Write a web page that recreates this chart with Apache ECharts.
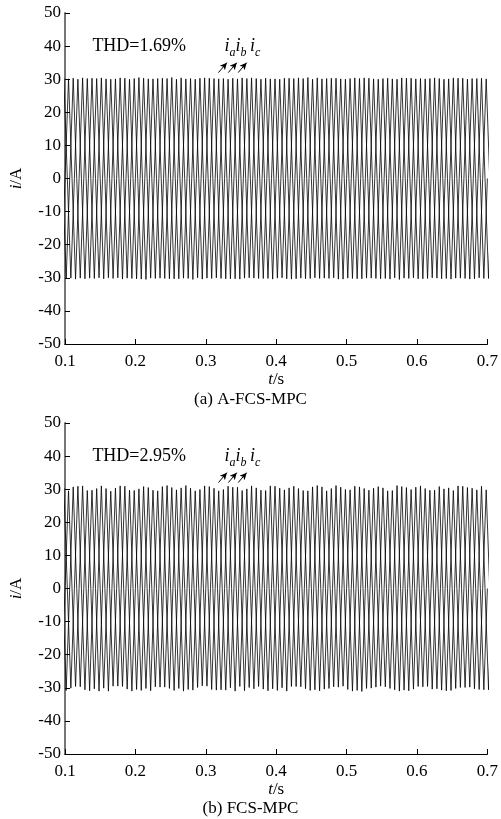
<!DOCTYPE html>
<html><head><meta charset="utf-8">
<script src="https://cdn.jsdelivr.net/npm/echarts@6/dist/echarts.min.js"></script>
<style>html,body{margin:0;padding:0;background:#fff}#c{width:501px;height:819px}</style>
</head><body><div id="c"></div>
<script>
// ---- data ----
const tMin = 0.1, tMax = 0.7;
const period = 0.02; // 50 Hz fundamental
const xTicks = ['0.1','0.2','0.3','0.4','0.5','0.6','0.7'];
const yTicks = [-50,-40,-30,-20,-10,0,10,20,30,40,50];
const captions = ['(a) A-FCS-MPC', '(b) FCS-MPC'];
const thdLabels = ['THD=1.69%', 'THD=2.95%'];

// (a) A-FCS-MPC : positive / negative peak per cycle, phases a,b,c
const aPosA = [30.3,30.1,30.4,30.2,30.0,30.3,30.5,30.1,30.2,30.4,30.0,30.3,30.2,30.1,30.4,30.3,30.0,30.2,30.5,30.1,30.3,30.2,30.4,30.0,30.1,30.3,30.2,30.4,30.1,30.3,30.2];
const aNegA = [-30.2,-30.4,-30.1,-30.3,-30.0,-30.2,-30.5,-30.1,-30.3,-30.2,-30.4,-30.0,-30.3,-30.1,-30.2,-30.4,-30.3,-30.1,-30.0,-30.2,-30.4,-30.3,-30.1,-30.2,-30.5,-30.0,-30.2,-30.3,-30.1,-30.4,-30.2];
const aPosB = [30.1,30.3,30.2,30.4,30.1,30.0,30.3,30.2,30.5,30.1,30.3,30.2,30.0,30.4,30.2,30.1,30.3,30.4,30.0,30.2,30.1,30.4,30.3,30.2,30.0,30.3,30.1,30.2,30.4,30.0,30.3];
const aNegB = [-30.3,-30.1,-30.2,-30.0,-30.4,-30.3,-30.1,-30.2,-30.3,-30.5,-30.1,-30.2,-30.3,-30.0,-30.2,-30.1,-30.4,-30.3,-30.2,-30.0,-30.1,-30.3,-30.2,-30.4,-30.1,-30.3,-30.0,-30.2,-30.1,-30.3,-30.2];
const aPosC = [30.2,30.0,30.3,30.1,30.4,30.2,30.1,30.3,30.0,30.2,30.4,30.1,30.3,30.2,30.0,30.1,30.3,30.2,30.4,30.3,30.0,30.2,30.1,30.3,30.4,30.1,30.2,30.0,30.3,30.2,30.1];
const aNegC = [-30.1,-30.3,-30.0,-30.2,-30.1,-30.4,-30.2,-30.3,-30.1,-30.0,-30.2,-30.3,-30.4,-30.1,-30.2,-30.0,-30.3,-30.2,-30.1,-30.4,-30.2,-30.1,-30.3,-30.0,-30.2,-30.3,-30.1,-30.4,-30.2,-30.0,-30.3];

// (b) FCS-MPC : larger ripple on the peaks
const bPosA = [30.6,29.5,31.0,30.2,29.4,30.9,30.1,29.7,31.1,30.4,29.5,30.8,29.9,30.6,31.0,29.6,30.3,30.9,29.5,30.7,31.1,29.8,30.2,30.8,29.6,30.5,31.0,29.7,30.4,30.9,29.8];
const bNegA = [-30.4,-29.6,-30.9,-30.1,-29.5,-31.0,-30.2,-29.8,-30.8,-30.5,-29.4,-30.7,-30.0,-30.9,-29.6,-30.3,-31.0,-29.7,-30.6,-30.2,-29.5,-30.8,-30.1,-29.7,-31.0,-30.4,-29.6,-30.7,-30.2,-29.8,-30.6];
const bPosB = [29.8,30.7,29.6,31.0,30.3,29.7,30.8,29.5,30.5,31.1,29.9,30.3,30.9,29.6,30.4,31.0,29.8,30.2,30.7,29.5,30.6,30.9,29.7,30.4,31.1,29.9,30.2,30.8,29.6,30.5,30.9];
const bNegB = [-30.8,-29.7,-30.3,-31.0,-29.6,-30.5,-30.9,-29.8,-30.2,-30.7,-29.5,-30.6,-31.0,-29.9,-30.4,-30.8,-29.6,-30.3,-30.9,-29.7,-30.5,-31.1,-29.8,-30.2,-30.7,-29.6,-30.4,-30.9,-29.9,-30.3,-30.6];
const bPosC = [30.4,30.9,29.7,30.2,31.0,29.6,30.5,30.8,29.8,30.3,31.0,29.5,30.6,30.1,29.7,30.9,30.4,29.6,31.1,30.2,29.9,30.7,30.3,29.5,30.8,30.6,29.7,30.1,31.0,30.3,29.8];
const bNegC = [-30.1,-30.6,-31.0,-29.5,-30.4,-30.8,-29.7,-30.2,-31.0,-29.9,-30.5,-30.7,-29.6,-30.3,-30.9,-30.0,-29.6,-30.8,-30.4,-29.8,-31.0,-30.2,-29.5,-30.6,-30.9,-29.7,-30.3,-30.8,-29.9,-30.5,-30.2];

// ---- build line data (zero crossings + peaks per cycle) ----
function phaseData(pos, neg, shiftFrac) {
  const d = [];
  const n = pos.length;
  for (let k = 0; k < n; k++) {
    const t0 = tMin + (k - 1 + shiftFrac) * period;
    d.push([t0, 0]);
    d.push([t0 + period / 4, pos[k]]);
    d.push([t0 + period / 2, 0]);
    d.push([t0 + 3 * period / 4, neg[k]]);
  }
  d.push([tMin + (n - 1 + shiftFrac) * period, 0]);
  return d;
}

const serif = '"Liberation Serif","DejaVu Serif",serif';
const grids = [
  {left: 62, right: 12, top: 13, height: 331},
  {left: 62, right: 12, top: 423, height: 331}
];

function xAxis(i) {
  return {
    type: 'value', gridIndex: i, min: tMin, max: tMax, interval: 0.1,
    axisLine: {onZero: false, lineStyle: {color: '#000', width: 1.2}},
    axisTick: {inside: true, length: 5, lineStyle: {color: '#000'}},
    splitLine: {show: false},
    axisLabel: {color: '#000', fontFamily: serif, fontSize: 17, margin: 9,
      formatter: v => xTicks[Math.round((v - tMin) * 10)]},
    name: '{it|t}/s', nameLocation: 'middle', nameGap: 27,
    nameTextStyle: {color: '#000', fontFamily: serif, fontSize: 17,
      rich: {it: {fontStyle: 'italic', fontFamily: serif, fontSize: 17, color: '#000'}}}
  };
}
function yAxis(i) {
  return {
    type: 'value', gridIndex: i, min: yTicks[0], max: yTicks[yTicks.length - 1], interval: 10,
    axisLine: {onZero: false, lineStyle: {color: '#777', width: 2}},
    axisTick: {inside: true, length: 5, lineStyle: {color: '#000'}},
    splitLine: {show: false},
    axisLabel: {color: '#000', fontFamily: serif, fontSize: 17, margin: 4},
    name: '{it|i}/A', nameLocation: 'middle', nameGap: 40, nameRotate: 90,
    nameTextStyle: {color: '#000', fontFamily: serif, fontSize: 17,
      rich: {it: {fontStyle: 'italic', fontFamily: serif, fontSize: 17, color: '#000'}}}
  };
}

const lineStyle = {color: '#000', width: 0.8};
function phaseSeries(i, data, extra) {
  return Object.assign({
    type: 'line', xAxisIndex: i, yAxisIndex: i, data: data,
    showSymbol: false, symbol: 'none', lineStyle: lineStyle, animation: false, silent: true
  }, extra || {});
}

const richLbl = {
  i: {fontStyle: 'italic', fontFamily: serif, fontSize: 18, color: '#000'},
  s: {fontStyle: 'italic', fontFamily: serif, fontSize: 12, color: '#000', padding: [12, 0, 0, 0]}
};
function annotations(i) {
  return {
    markLine: {
      silent: true, symbol: ['none', 'arrow'], symbolSize: [5, 7],
      lineStyle: {color: '#000', width: 1, type: 'solid'}, label: {show: false},
      data: [
        [{coord: [0.318, 32.0]}, {coord: [0.330, 35.0]}],
        [{coord: [0.332, 32.0]}, {coord: [0.344, 35.0]}],
        [{coord: [0.346, 32.0]}, {coord: [0.358, 35.0]}]
      ]
    },
    markPoint: {
      silent: true, symbol: 'circle', symbolSize: 0,
      data: [
        {coord: [0.2054, 39.8], label: {show: true, formatter: thdLabels[i], color: '#000',
          fontFamily: serif, fontSize: 18, position: 'inside'}},
        {coord: [0.352, 39.8], label: {show: true, position: 'inside',
          formatter: '{i|i}{s|a}{i|i}{s|b} {i|i}{s|c}', rich: richLbl}}
      ]
    }
  };
}

const series = [];
const sets = [
  [aPosA, aNegA, aPosB, aNegB, aPosC, aNegC],
  [bPosA, bNegA, bPosB, bNegB, bPosC, bNegC]
];
sets.forEach((s, i) => {
  series.push(phaseSeries(i, phaseData(s[0], s[1], 0), annotations(i)));
  series.push(phaseSeries(i, phaseData(s[2], s[3], 1 / 3)));
  series.push(phaseSeries(i, phaseData(s[4], s[5], 2 / 3)));
});

const chart = echarts.init(document.getElementById('c'), null, {renderer: 'canvas'});
chart.setOption({
  backgroundColor: '#fff',
  animation: false,
  title: [
    {text: captions[0], left: 'center', top: 386, textStyle: {fontFamily: serif, fontSize: 17, fontWeight: 'normal', color: '#000'}},
    {text: captions[1], left: 'center', top: 795, textStyle: {fontFamily: serif, fontSize: 17, fontWeight: 'normal', color: '#000'}}
  ],
  grid: grids,
  xAxis: [xAxis(0), xAxis(1)],
  yAxis: [yAxis(0), yAxis(1)],
  series: series
});
</script></body></html>
